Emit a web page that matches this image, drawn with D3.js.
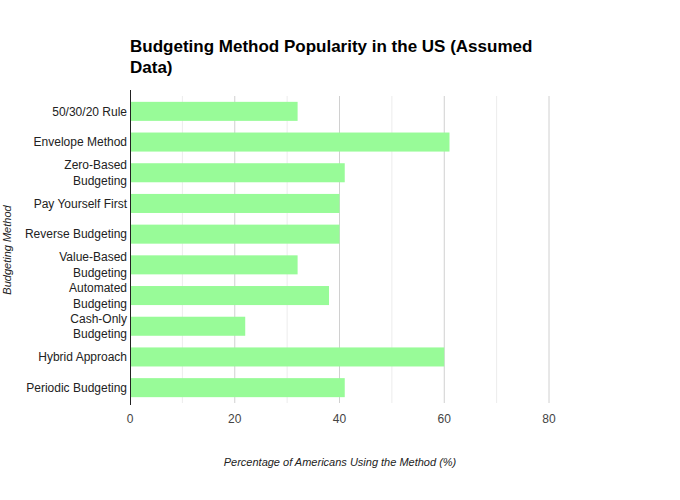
<!DOCTYPE html>
<html>
<head>
<meta charset="utf-8">
<script src="https://cdn.jsdelivr.net/npm/d3@7"></script>
<style>
body { margin: 0; background: #fff; }
text { font-family: "Liberation Sans", Arial, sans-serif; }
</style>
</head>
<body>
<script>
const methods = ["50/30/20 Rule", "Envelope Method", "Zero-Based Budgeting", "Pay Yourself First",
  "Reverse Budgeting", "Value-Based Budgeting", "Automated Budgeting", "Cash-Only Budgeting",
  "Hybrid Approach", "Periodic Budgeting"];
const shares = [32, 61, 41, 40, 40, 32, 38, 22, 60, 41];
const xTicks = [0, 20, 40, 60, 80];
const gridTicks = [10, 20, 30, 40, 50, 60, 70, 80];

// labels that wrap onto two lines
const labelLines = {
  "Zero-Based Budgeting": ["Zero-Based", "Budgeting"],
  "Value-Based Budgeting": ["Value-Based", "Budgeting"],
  "Automated Budgeting": ["Automated", "Budgeting"],
  "Cash-Only Budgeting": ["Cash-Only", "Budgeting"]
};

const width = 680, height = 500;
const plotLeft = 130, plotTop = 96, plotBottom = 403;

const svg = d3.select(document.body).append("svg")
  .attr("width", width)
  .attr("height", height);

const x = d3.scaleLinear().domain([0, 80]).range([plotLeft, 549]);
const y = d3.scaleBand().domain(methods).range([plotTop, plotBottom]).paddingInner(0.38).paddingOuter(0.19);

// grid
svg.append("g").selectAll("line")
  .data(gridTicks)
  .join("line")
  .attr("x1", d => x(d)).attr("x2", d => x(d))
  .attr("y1", plotTop).attr("y2", plotBottom)
  .attr("stroke", d => d % 20 === 0 ? "#d0d0d0" : "#ececec")
  .attr("stroke-width", 1);

// bars
svg.append("g").selectAll("rect")
  .data(methods)
  .join("rect")
  .attr("x", x(0))
  .attr("y", d => y(d))
  .attr("width", (d, i) => x(shares[i]) - x(0))
  .attr("height", y.bandwidth())
  .attr("fill", "#98fb98");

// y axis line
svg.append("line")
  .attr("x1", plotLeft + 0.5).attr("x2", plotLeft + 0.5)
  .attr("y1", plotTop - 6).attr("y2", plotBottom + 2)
  .attr("stroke", "#222");

// y labels
const yl = svg.append("g").selectAll("text")
  .data(methods)
  .join("text")
  .attr("x", plotLeft - 3)
  .attr("y", d => y(d) + y.bandwidth() / 2)
  .attr("text-anchor", "end")
  .attr("font-size", 12)
  .attr("fill", "#222");
yl.each(function(d) {
  const lines = labelLines[d] || [d];
  const t = d3.select(this);
  lines.forEach((l, i) => {
    t.append("tspan")
      .attr("x", plotLeft - 3)
      .attr("dy", i === 0 ? (lines.length === 1 ? "0.35em" : "-0.3em") : "1.3em")
      .text(l);
  });
});

// x tick labels
svg.append("g").selectAll("text")
  .data(xTicks)
  .join("text")
  .attr("x", d => x(d))
  .attr("y", 423)
  .attr("text-anchor", "middle")
  .attr("font-size", 12)
  .attr("fill", "#444")
  .text(d => d);

// title
svg.append("text")
  .attr("x", plotLeft)
  .attr("y", 52)
  .attr("font-size", 17)
  .attr("font-weight", "bold")
  .attr("fill", "#000")
  .selectAll("tspan")
  .data(["Budgeting Method Popularity in the US (Assumed", "Data)"])
  .join("tspan")
  .attr("x", plotLeft)
  .attr("dy", (d, i) => i === 0 ? 0 : 21)
  .text(d => d);

// axis titles
svg.append("text")
  .attr("x", 340)
  .attr("y", 466)
  .attr("text-anchor", "middle")
  .attr("font-size", 11)
  .attr("font-style", "italic")
  .attr("fill", "#222")
  .text("Percentage of Americans Using the Method (%)");

svg.append("text")
  .attr("transform", "translate(11,250) rotate(-90)")
  .attr("text-anchor", "middle")
  .attr("font-size", 11)
  .attr("font-style", "italic")
  .attr("fill", "#222")
  .text("Budgeting Method");
</script>
</body>
</html>
